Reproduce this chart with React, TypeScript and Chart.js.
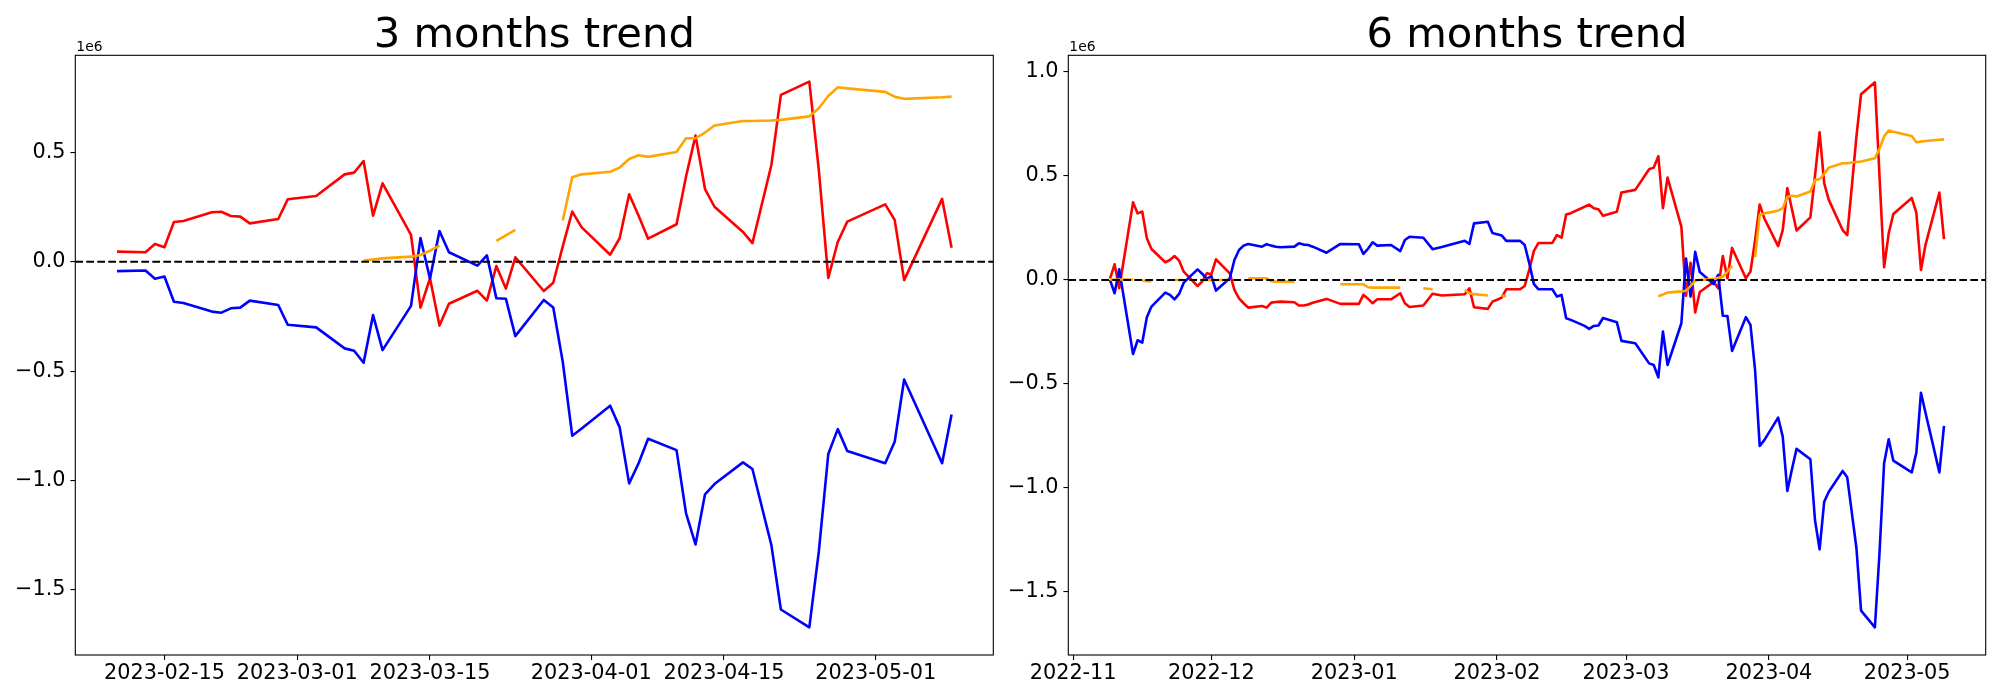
import React, { useEffect, useRef } from "react";
import { Chart, registerables } from "chart.js";

Chart.register(...registerables);

const FONT = "'DejaVu Sans', 'Liberation Sans', sans-serif";

// ---------------- 3 months panel ----------------
const dates3m = [
  "2023-02-10", "2023-02-13", "2023-02-14", "2023-02-15", "2023-02-16", "2023-02-17", "2023-02-20", "2023-02-21", "2023-02-22", "2023-02-23", "2023-02-24", "2023-02-27", "2023-02-28",
  "2023-03-03", "2023-03-06", "2023-03-07", "2023-03-08", "2023-03-09", "2023-03-10", "2023-03-13", "2023-03-14", "2023-03-15", "2023-03-16", "2023-03-17", "2023-03-20", "2023-03-21", "2023-03-22", "2023-03-23", "2023-03-24", "2023-03-27", "2023-03-28", "2023-03-29", "2023-03-30", "2023-03-31",
  "2023-04-03", "2023-04-04", "2023-04-05", "2023-04-06", "2023-04-07", "2023-04-10", "2023-04-11", "2023-04-12", "2023-04-13", "2023-04-14", "2023-04-17", "2023-04-18", "2023-04-20", "2023-04-21", "2023-04-24", "2023-04-25", "2023-04-26", "2023-04-27", "2023-04-28",
  "2023-05-02", "2023-05-03", "2023-05-04", "2023-05-08", "2023-05-09",
];
const red3m = [
  0.046, 0.043, 0.081, 0.066, 0.181, 0.186, 0.226, 0.228, 0.209, 0.206, 0.175, 0.195, 0.285,
  0.300, 0.399, 0.407, 0.460, 0.210, 0.358, 0.122, -0.210, -0.076, -0.292, -0.192, -0.133, -0.178, -0.020, -0.123, 0.020, -0.134, -0.096, 0.070, 0.229, 0.157,
  0.032, 0.107, 0.308, 0.210, 0.105, 0.171, 0.389, 0.576, 0.332, 0.251, 0.136, 0.085, 0.442, 0.762, 0.823, 0.420, -0.074, 0.090, 0.183,
  0.262, 0.191, -0.084, 0.287, 0.064,
];
const blue3m = [
  -0.043, -0.040, -0.078, -0.068, -0.183, -0.189, -0.228, -0.233, -0.213, -0.210, -0.178, -0.198, -0.288,
  -0.300, -0.396, -0.407, -0.462, -0.244, -0.404, -0.202, 0.108, -0.078, 0.140, 0.043, -0.018, 0.029, -0.167, -0.169, -0.340, -0.175, -0.209, -0.457, -0.795, -0.762,
  -0.658, -0.757, -1.013, -0.921, -0.809, -0.861, -1.150, -1.292, -1.063, -1.016, -0.917, -0.947, -1.295, -1.589, -1.671, -1.325, -0.879, -0.765, -0.865,
  -0.921, -0.823, -0.538, -0.921, -0.698,
];
const orange3m = [
  null, null, null, null, null, null, null, null, null, null, null, null, null,
  null, null, null, 0.005, 0.010, 0.015, 0.023, 0.031, 0.050, 0.073, null, null, null, 0.095, 0.120, 0.145, null, null, 0.188, 0.386, 0.399,
  0.411, 0.430, 0.469, 0.486, 0.479, 0.501, 0.564, 0.564, 0.590, 0.622, 0.643, 0.643, 0.645, 0.648, 0.664, 0.701, 0.757, 0.797, 0.792,
  0.776, 0.754, 0.744, 0.751, 0.754,
];
const xTicks3m = ["2023-02-15", "2023-03-01", "2023-03-15", "2023-04-01", "2023-04-15", "2023-05-01"];
const yTicks3m = [-1.5, -1.0, -0.5, 0.0, 0.5];
const yRange3m = [-1.797, 0.943];

// ---------------- 6 months panel ----------------
const dates6m = [
  "2022-11-09", "2022-11-10", "2022-11-11", "2022-11-14", "2022-11-15", "2022-11-16", "2022-11-17", "2022-11-18", "2022-11-21", "2022-11-22", "2022-11-23", "2022-11-24", "2022-11-25", "2022-11-28", "2022-11-29", "2022-11-30",
  "2022-12-01", "2022-12-02", "2022-12-05", "2022-12-06", "2022-12-07", "2022-12-08", "2022-12-09", "2022-12-12", "2022-12-13", "2022-12-14", "2022-12-15", "2022-12-16", "2022-12-19", "2022-12-20", "2022-12-21", "2022-12-22", "2022-12-23", "2022-12-26", "2022-12-29",
  "2023-01-02", "2023-01-03", "2023-01-04", "2023-01-05", "2023-01-06", "2023-01-09", "2023-01-11", "2023-01-12", "2023-01-13", "2023-01-16", "2023-01-18", "2023-01-20", "2023-01-25", "2023-01-26", "2023-01-27", "2023-01-30", "2023-01-31",
  "2023-02-01", "2023-02-02", "2023-02-03", "2023-02-06", "2023-02-07", "2023-02-08", "2023-02-09", "2023-02-10", "2023-02-13", "2023-02-14", "2023-02-15", "2023-02-16", "2023-02-17", "2023-02-20", "2023-02-21", "2023-02-22", "2023-02-23", "2023-02-24", "2023-02-27", "2023-02-28",
  "2023-03-03", "2023-03-06", "2023-03-07", "2023-03-08", "2023-03-09", "2023-03-10", "2023-03-13", "2023-03-14", "2023-03-15", "2023-03-16", "2023-03-17", "2023-03-20", "2023-03-21", "2023-03-22", "2023-03-23", "2023-03-24", "2023-03-27", "2023-03-28", "2023-03-29", "2023-03-30", "2023-03-31",
  "2023-04-03", "2023-04-04", "2023-04-05", "2023-04-06", "2023-04-07", "2023-04-10", "2023-04-11", "2023-04-12", "2023-04-13", "2023-04-14", "2023-04-17", "2023-04-18", "2023-04-19", "2023-04-20", "2023-04-21", "2023-04-24", "2023-04-25", "2023-04-26", "2023-04-27", "2023-04-28",
  "2023-05-02", "2023-05-03", "2023-05-04", "2023-05-05", "2023-05-08", "2023-05-09",
];
const red6m = [
  0.006, 0.075, -0.040, 0.373, 0.320, 0.329, 0.200, 0.149, 0.085, 0.096, 0.115, 0.093, 0.040, -0.029, -0.008, 0.032,
  0.027, 0.099, 0.032, -0.048, -0.088, -0.112, -0.133, -0.125, -0.133, -0.109, -0.106, -0.104, -0.107, -0.123, -0.123, -0.118, -0.110, -0.091, -0.115,
  -0.115, -0.072, -0.090, -0.112, -0.093, -0.093, -0.064, -0.112, -0.130, -0.123, -0.066, -0.075, -0.069, -0.040, -0.131, -0.139, -0.104,
  -0.095, -0.085, -0.045, -0.045, -0.029, 0.050, 0.140, 0.178, 0.178, 0.216, 0.203, 0.315, 0.321, 0.352, 0.362, 0.345, 0.340, 0.309, 0.328, 0.420,
  0.433, 0.532, 0.540, 0.595, 0.345, 0.492, 0.256, -0.076, 0.083, -0.156, -0.058, -0.010, -0.040, 0.115, 0.008, 0.154, 0.008, 0.040, 0.190, 0.363, 0.296,
  0.163, 0.240, 0.442, 0.340, 0.238, 0.301, 0.500, 0.710, 0.465, 0.385, 0.240, 0.216, 0.450, 0.690, 0.893, 0.950, 0.500, 0.061, 0.224, 0.317,
  0.394, 0.324, 0.048, 0.170, 0.420, 0.196,
];
const blue6m = [
  0.000, -0.064, 0.051, -0.356, -0.290, -0.301, -0.179, -0.128, -0.061, -0.072, -0.093, -0.067, -0.013, 0.051, 0.030, 0.005,
  0.018, -0.051, 0.008, 0.096, 0.144, 0.165, 0.173, 0.160, 0.172, 0.165, 0.160, 0.157, 0.160, 0.176, 0.170, 0.168, 0.160, 0.131, 0.173,
  0.172, 0.125, 0.150, 0.181, 0.165, 0.168, 0.139, 0.192, 0.208, 0.203, 0.148, 0.158, 0.188, 0.173, 0.272, 0.280, 0.226,
  0.220, 0.214, 0.188, 0.188, 0.168, 0.080, -0.020, -0.045, -0.045, -0.080, -0.072, -0.184, -0.192, -0.221, -0.235, -0.221, -0.219, -0.183, -0.203, -0.293,
  -0.304, -0.401, -0.409, -0.468, -0.248, -0.409, -0.208, 0.103, -0.080, 0.135, 0.038, -0.019, 0.024, -0.172, -0.173, -0.341, -0.179, -0.216, -0.433, -0.798, -0.770,
  -0.662, -0.753, -1.014, -0.910, -0.812, -0.862, -1.154, -1.295, -1.066, -1.018, -0.918, -0.949, -1.120, -1.290, -1.590, -1.670, -1.314, -0.881, -0.766, -0.869,
  -0.925, -0.830, -0.542, -0.640, -0.925, -0.702,
];
const orange6m = [
  0.002, 0.002, 0.002, 0.002, null, -0.003, -0.006, -0.006, null, null, 0.000, 0.000, 0.000, null, 0.000, 0.000,
  0.000, 0.000, 0.000, null, null, null, 0.008, 0.008, 0.008, -0.006, -0.008, -0.008, -0.008, null, null, null, null, null, -0.021,
  -0.021, -0.021, -0.035, -0.037, -0.037, -0.037, -0.037, null, null, -0.040, -0.045, null, -0.048, -0.064, -0.068, -0.075, null,
  null, -0.075, -0.080, null, null, null, null, null, null, null, null, null, null, null, null, null, null, null, null, null,
  null, null, null, -0.078, -0.070, -0.061, -0.055, -0.052, -0.030, -0.003, 0.000, 0.005, 0.010, 0.016, 0.040, 0.068, null, null, 0.110, 0.312, 0.320,
  0.333, 0.345, 0.400, 0.405, 0.401, 0.425, 0.481, 0.484, 0.510, 0.540, 0.561, 0.561, 0.565, 0.567, 0.569, 0.585, 0.630, 0.690, 0.718, 0.712,
  0.692, 0.662, 0.665, 0.668, 0.674, 0.676,
];
const xTicks6m = ["2022-11", "2022-12", "2023-01", "2023-02", "2023-03", "2023-04", "2023-05"];
const yTicks6m = [-1.5, -1.0, -0.5, 0.0, 0.5, 1.0];
const yRange6m = [-1.803, 1.08];

const dayNum = (s: string) => {
  const p = s.split("-").map(Number);
  return Date.UTC(p[0], p[1] - 1, p.length > 2 ? p[2] : 1) / 86400000;
};

const fmtY = (v: number) => {
  const s = Math.abs(v).toFixed(1);
  return v < -1e-9 ? "\u2212" + s : s;
};

type PanelSpec = {
  title: string;
  dates: string[];
  red: (number | null)[];
  blue: (number | null)[];
  orange: (number | null)[];
  xTicks: string[];
  yTicks: number[];
  yRange: number[];
  areaLeft: number;
  areaRight: number;
};

function makeChart(canvas: HTMLCanvasElement, p: PanelSpec) {
  const xs = p.dates.map(dayNum);
  const span = xs[xs.length - 1] - xs[0];
  const xMin = xs[0] - 0.05 * span;
  const xMax = xs[xs.length - 1] + 0.05 * span;
  const pts = (vals: (number | null)[]) => vals.map((v, i) => ({ x: xs[i], y: v }));
  const xTickVals = p.xTicks.map(dayNum);
  const W = 1000;
  const top = 55.3;
  const bottom = 655;

  const lineDs = (data: any, color: string) => ({
    data,
    borderColor: color,
    backgroundColor: color,
    borderWidth: 2.6,
    pointRadius: 0,
    pointHoverRadius: 0,
    tension: 0,
    spanGaps: false,
    fill: false,
    borderJoinStyle: "round" as const,
    borderCapStyle: "butt" as const,
  });

  const deco = {
    id: "deco",
    afterDatasetsDraw(chart: any) {
      const { ctx, chartArea: a } = chart;
      ctx.save();
      ctx.strokeStyle = "#000";
      ctx.lineWidth = 1.1;
      ctx.strokeRect(a.left, a.top, a.right - a.left, a.bottom - a.top);
      ctx.restore();
    },
    afterDraw(chart: any) {
      const { ctx, chartArea: a } = chart;
      ctx.save();
      ctx.fillStyle = "#000";
      ctx.textAlign = "center";
      ctx.textBaseline = "alphabetic";
      ctx.font = `41.7px ${FONT}`;
      ctx.fillText(p.title, (a.left + a.right) / 2, a.top - 8.3);
      ctx.textAlign = "left";
      ctx.font = `13.9px ${FONT}`;
      ctx.fillText("1e6", a.left + 1, a.top - 4.6);
      ctx.restore();
    },
  };

  return new Chart(canvas, {
    type: "line",
    data: {
      datasets: [
        {
          ...lineDs([{ x: xMin, y: 0 }, { x: xMax, y: 0 }], "#000000"),
          borderWidth: 2.08,
          borderDash: [7.7, 3.3],
        },
        lineDs(pts(p.orange), "#ffa500"),
        lineDs(pts(p.blue), "#0000ff"),
        lineDs(pts(p.red), "#ff0000"),
      ],
    },
    options: {
      responsive: false,
      maintainAspectRatio: false,
      animation: false,
      devicePixelRatio: 1,
      events: [],
      layout: { padding: { left: 0, top: top, right: W - p.areaRight, bottom: 0 } },
      plugins: { legend: { display: false }, title: { display: false }, tooltip: { enabled: false } },
      scales: {
        x: {
          type: "linear",
          min: xMin,
          max: xMax,
          afterBuildTicks: (s: any) => {
            s.ticks = xTickVals.map((v) => ({ value: v }));
          },
          afterFit: (s: any) => {
            s.height = 700 - bottom;
          },
          ticks: {
            autoSkip: false,
            maxRotation: 0,
            minRotation: 0,
            padding: 1,
            color: "#000",
            font: { family: FONT, size: 20.8 },
            callback: (_v: any, i: number) => p.xTicks[i],
          },
          grid: { drawOnChartArea: false, drawTicks: true, tickLength: 4.9, color: "#000", lineWidth: 1.1 },
          border: { display: false },
        },
        y: {
          type: "linear",
          min: p.yRange[0],
          max: p.yRange[1],
          afterBuildTicks: (s: any) => {
            s.ticks = p.yTicks.map((v) => ({ value: v }));
          },
          afterFit: (s: any) => {
            s.width = p.areaLeft;
          },
          ticks: {
            autoSkip: false,
            padding: 4.9,
            color: "#000",
            font: { family: FONT, size: 20.8 },
            callback: (_v: any, i: number) => fmtY(p.yTicks[i]),
          },
          grid: { drawOnChartArea: false, drawTicks: true, tickLength: 4.9, color: "#000", lineWidth: 1.1 },
          border: { display: false },
        },
      },
    },
    plugins: [deco],
  } as any);
}

export default function App() {
  const leftRef = useRef<HTMLCanvasElement | null>(null);
  const rightRef = useRef<HTMLCanvasElement | null>(null);

  useEffect(() => {
    const c1 = makeChart(leftRef.current!, {
      title: "3 months trend",
      dates: dates3m,
      red: red3m,
      blue: blue3m,
      orange: orange3m,
      xTicks: xTicks3m,
      yTicks: yTicks3m,
      yRange: yRange3m,
      areaLeft: 75.3,
      areaRight: 993.3,
    });
    const c2 = makeChart(rightRef.current!, {
      title: "6 months trend",
      dates: dates6m,
      red: red6m,
      blue: blue6m,
      orange: orange6m,
      xTicks: xTicks6m,
      yTicks: yTicks6m,
      yRange: yRange6m,
      areaLeft: 68.3,
      areaRight: 985.7,
    });
    return () => {
      c1.destroy();
      c2.destroy();
    };
  }, []);

  return (
    <div style={{ position: "fixed", left: 0, top: 0, width: 2000, height: 700, background: "#fff" }}>
      <canvas
        ref={leftRef}
        width={1000}
        height={700}
        style={{ position: "absolute", left: 0, top: 0, width: 1000, height: 700 }}
      />
      <canvas
        ref={rightRef}
        width={1000}
        height={700}
        style={{ position: "absolute", left: 1000, top: 0, width: 1000, height: 700 }}
      />
    </div>
  );
}
